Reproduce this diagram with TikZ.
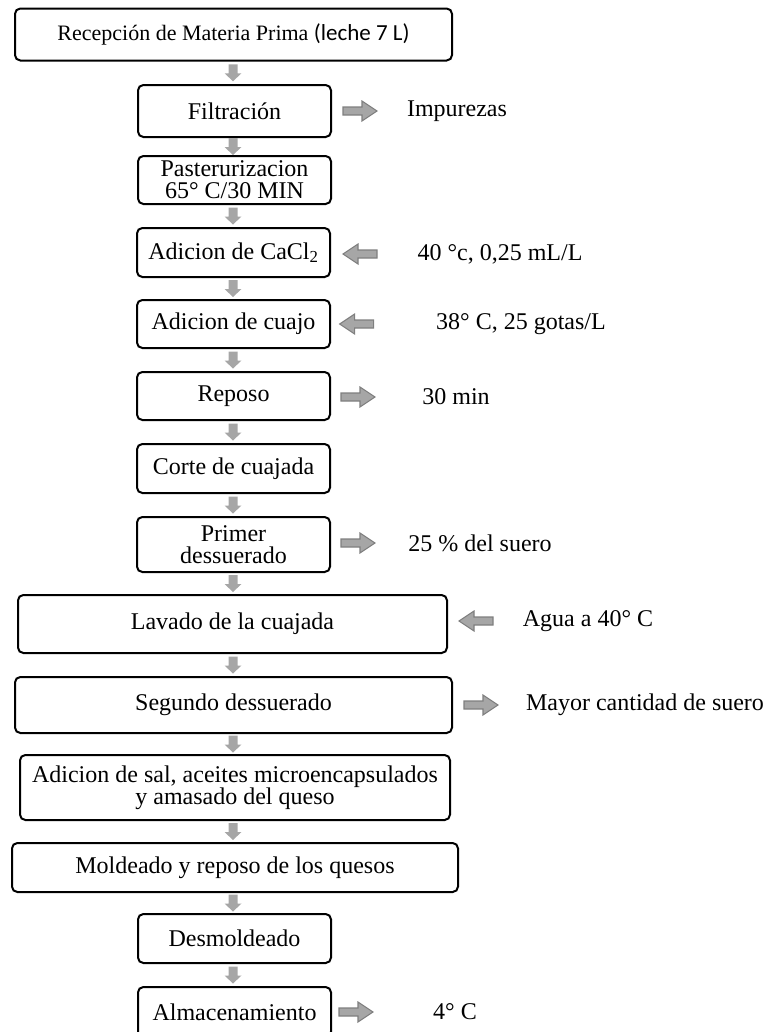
\documentclass[tikz,border=0pt]{standalone}
\usepackage{fontspec}
\setmainfont{Liberation Serif}
\newfontfamily\calib{Carlito}
\usetikzlibrary{calc}
\definecolor{arrfill}{HTML}{A6A6A6}
\definecolor{arrline}{HTML}{7F7F7F}
\tikzset{
  box/.style 2 args={draw=black, line width=1.5pt, rounded corners=4pt,
    minimum width=#1*0.75pt, minimum height=#2*0.75pt, inner sep=0pt,
    align=center, font=\fontsize{18pt}{16.5pt}\selectfont},
  lbl/.style={inner sep=0pt, font=\fontsize{18pt}{16.5pt}\selectfont},
  darrfill/.style={fill=arrfill, draw=none},
  sarr/.style={fill=arrfill, draw=arrline, line width=0.8pt, line join=miter},
  darr/.pic={\path[darrfill] (-4.5,-8.5) -- (4.5,-8.5) -- (4.5,0.5) -- (8.5,0.5) -- (0,8.5) -- (-8.5,0.5) -- (-4.5,0.5) -- cycle;},
  rarr/.pic={\path[sarr] (0,-4) -- (19,-4) -- (19,-10) -- (34,0) -- (19,10) -- (19,4) -- (0,4) -- cycle;},
  larr/.pic={\path[sarr] (0,-4) -- (-19,-4) -- (-19,-10) -- (-34,0) -- (-19,10) -- (-19,4) -- (0,4) -- cycle;}
}
\newcommand\downarr[2]{\pic at ($(#1.south -| 233,0)!0.5!(#2.north -| 233,0)$) {darr};}
\begin{document}
\begin{tikzpicture}[x=0.75pt,y=-0.75pt]
\useasboundingbox (0,0) rectangle (773,1032);
\clip (0,0) rectangle (773,1032);
% main boxes
\node[box={437}{52}, font=\fontsize{16.5pt}{16.5pt}\selectfont] (rec) at (233.5,34.5) {Recepción de Materia Prima {\calib\fontsize{17.25pt}{16.5pt}\selectfont(leche 7 L)}};
\node[box={193}{52}] (fil) at (234.5,111) {Filtración};
\node[box={193}{48}] (pas) at (234.5,180) {Pasterurizacion\\65° C/30 MIN};
\node[box={193}{49}] (cacl) at (233.5,252.5) {Adicion de CaCl\textsubscript{2}};
\node[box={193}{48}] (cua) at (233.5,324) {Adicion de cuajo};
\node[box={193}{48}] (rep) at (233.5,396) {Reposo};
\node[box={193}{49}] (cor) at (233.5,468.5) {Corte de cuajada};
\node[box={193}{55}] (pri) at (233.5,544.5) {Primer\\dessuerado};
\node[box={429}{58}] (lav) at (232.5,624) {Lavado de la cuajada};
\node[box={437}{56}] (seg) at (233.5,705) {Segundo dessuerado};
\node[box={430}{65}] (sal) at (235,787.5) {Adicion de sal, aceites microencapsulados\\y amasado del queso};
\node[box={446}{49}] (mol) at (235,867.5) {Moldeado y reposo de los quesos};
\node[box={193}{49}] (des) at (234.5,938.5) {Desmoldeado};
\node[box={193}{50}] (alm) at (234.5,1012) {Almacenamiento};
% down arrows
\downarr{rec}{fil}
\downarr{fil}{pas}
\downarr{pas}{cacl}
\downarr{cacl}{cua}
\downarr{cua}{rep}
\downarr{rep}{cor}
\downarr{cor}{pri}
\downarr{pri}{lav}
\downarr{lav}{seg}
\downarr{seg}{sal}
\downarr{sal}{mol}
\downarr{mol}{des}
\downarr{des}{alm}
% side labels
\node[lbl] (imp) at (457,111) {Impurezas};
\node[lbl] (t40) at (500,254) {40 °c, 0,25 mL/L};
\node[lbl] (t38) at (521,324) {38° C, 25 gotas/L};
\node[lbl] (t30) at (456,397) {30 min};
\node[lbl] (t25) at (480,543) {25 \% del suero};
\node[lbl] (agua) at (588,621) {Agua a 40° C};
\node[lbl] (may) at (645,705) {Mayor cantidad de suero};
\node[lbl] (t4) at (455,1012) {4° C};
% side arrows
\pic at ([xshift=8.25pt]fil.east |- imp) {rarr};
\pic at ([xshift=34.5pt]cacl.east |- t40) {larr};
\pic at ([xshift=32pt]cua.east |- t38) {larr};
\pic at ([xshift=7.5pt]rep.east |- t30) {rarr};
\pic at ([xshift=7.5pt]pri.east |- t25) {rarr};
\pic at ([xshift=33.75pt]lav.east |- agua) {larr};
\pic at ([xshift=8.25pt]seg.east |- may) {rarr};
\pic at ([xshift=5.25pt]alm.east |- t4) {rarr};
\end{tikzpicture}
\end{document}
